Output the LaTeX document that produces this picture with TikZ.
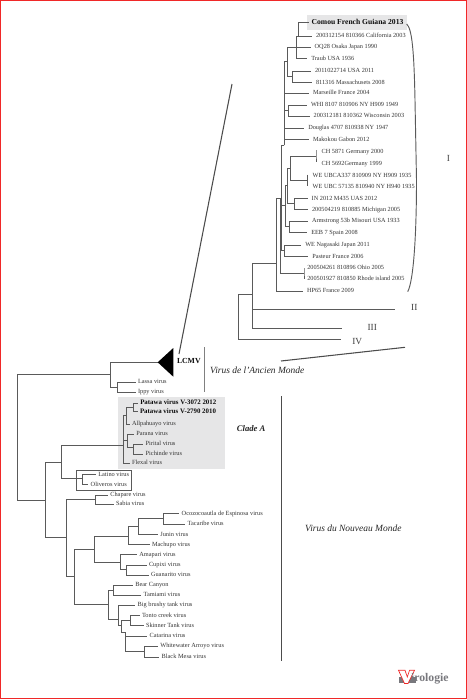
\documentclass[tikz,border=0pt]{standalone}
\usepackage{fontspec}
\setmainfont{Liberation Serif}
\definecolor{treegray}{RGB}{90,90,90}
\definecolor{boxgray}{RGB}{230,230,231}
\definecolor{framered}{RGB}{240,40,40}
\definecolor{logogray}{RGB}{120,120,125}
\tikzset{
  every picture/.style={line width=0.75pt},
  branch/.style={draw=treegray,line width=0.7pt},
  sepline/.style={draw=black!70,line width=0.8pt},
  strain/.style={anchor=west,inner sep=0.5pt,outer sep=2.6pt,xshift=-3.1pt,text height=3.4pt,text depth=1pt,text=black!80,font=\fontsize{4.7}{5}\selectfont},
  virus/.style={anchor=west,inner sep=0.5pt,outer sep=1.2pt,xshift=-1.7pt,text height=3.4pt,text depth=1pt,text=black!80,font=\fontsize{4.75}{6}\selectfont},
  boldvirus/.style={virus,text=black!95,font=\fontsize{5.15}{6}\selectfont\bfseries},
  clusterlab/.style={inner sep=0.5pt,text=black!75,font=\fontsize{7}{8}\selectfont},
  worldlab/.style={anchor=west,inner sep=0.5pt,text=black!85,font=\fontsize{7.1}{9}\selectfont\itshape},
}

\begin{document}
\begin{tikzpicture}[x=0.75pt,y=0.75pt,yscale=-1,xscale=1]
\useasboundingbox (0,0) rectangle (467,700);

%Shape: Frame and grey boxes
\draw [framered,line width=0.9pt] (0.6,0.6) rectangle (466.2,698.6);
\fill [boxgray] (307,15) rectangle (407,30);
\fill [boxgray] (118,397.3) rectangle (225,468.7);
\draw [branch] (76.7,470.3) rectangle (131.3,490.3);

% Text Node: upper tree
\node [boldvirus,font=\fontsize{5.7}{6}\selectfont\bfseries] (comou) at (311.7,22.7) {Comou French Guiana 2013};
\node [strain] (calif) at (316,36) {200312154 810366 California 2003};
\node [strain] (osaka) at (314.7,47.3) {OQ28 Osaka Japan 1990};
\node [strain] (traub) at (311.3,58.7) {Traub USA 1936};
\node [strain] (usa) at (315,71) {2011022714 USA 2011};
\node [strain] (massa) at (316,82.7) {811316 Massachusets 2008};
\node [strain] (marseille) at (313,93.3) {Marseille France 2004};
\node [strain] (whi) at (311,105.3) {WHI 8107 810906 NY H909 1949};
\node [strain] (wisc) at (313.7,116.3) {200312181 810362 Wisconsin 2003};
\node [strain] (douglas) at (308.3,128.3) {Douglas 4707 810938 NY 1947};
\node [strain] (makokou) at (313,139.7) {Makokou Gabon 2012};
\node [strain] (chone) at (321.7,152.3) {CH 5871 Germany 2000};
\node [strain] (chtwo) at (321.7,163.7) {CH 5692Germany 1999};
\node [strain] (ubca) at (312.7,176) {WE UBCA337 810909 NY H909 1935};
\node [strain] (ubc) at (312.7,187.3) {WE UBC 57135 810940 NY H940 1935};
\node [strain] (inuas) at (311.7,198.7) {IN 2012 M435 UAS 2012};
\node [strain] (michigan) at (312,209.7) {200504219 810885 Michigan 2005};
\node [strain] (armstrong) at (312,221) {Armstrong 53b Misouri USA 1933};
\node [strain] (eeb) at (311.3,232.7) {EEB 7 Spain 2008};
\node [strain] (nagasaki) at (305.3,245) {WE Nagasaki Japan 2011};
\node [strain] (pasteur) at (312.3,256.7) {Pasteur France 2006};
\node [strain] (ohio) at (307.3,268) {200504261 810896 Ohio 2005};
\node [strain] (rhode) at (307.3,279.3) {200501927 810850 Rhode island 2005};
\node [strain] (hpsf) at (307,291) {HP65 France 2009};
\node [clusterlab] (ci) at (448.3,158) {I};
\node [clusterlab] (cii) at (414.3,307.7) {II};
\node [clusterlab] (ciii) at (372.3,327) {III};
\node [clusterlab] (civ) at (357.3,341.5) {IV};

% Text Node: lower tree
\node [boldvirus,font=\fontsize{5.8}{7}\selectfont\bfseries] (lcmv) at (177,362) {LCMV};
\node [virus] (lassa) at (138,382) {Lassa virus};
\node [virus] (ippy) at (138,392.3) {Ippy virus};
\node [boldvirus] (patawaone) at (140.3,403) {Patawa virus V-3072 2012};
\node [boldvirus] (patawatwo) at (140,411.7) {Patawa virus V-2790 2010};
\node [virus] (allpa) at (132,424) {Allpahuayo virus};
\node [virus] (parana) at (136.3,434.3) {Parana virus};
\node [virus] (pirital) at (145.7,444.3) {Pirital virus};
\node [virus] (pichinde) at (145.7,454.3) {Pichinde virus};
\node [virus] (flexal) at (132,463.3) {Flexal virus};
\node [virus] (latino) at (98.3,474.7) {Latino virus};
\node [virus] (oliveros) at (90.7,484.7) {Oliveros virus};
\node [virus] (chapare) at (110.3,495.3) {Chapare virus};
\node [virus] (sabia) at (116,504) {Sabia virus};
\node [virus] (ocozo) at (181.7,513.7) {Ocozocoautla de Espinosa virus};
\node [virus] (tacaribe) at (187.7,524.3) {Tacaribe virus};
\node [virus] (junin) at (160.3,534.7) {Junin virus};
\node [virus] (machupo) at (152,544.7) {Machupo virus};
\node [virus] (amapari) at (139.3,554.7) {Amapari virus};
\node [virus] (cupixi) at (149,565) {Cupixi virus};
\node [virus] (guanarito) at (151,575) {Guanarito virus};
\node [virus] (bear) at (135.3,585) {Bear Canyon};
\node [virus] (tamiami) at (143.7,595.3) {Tamiami virus};
\node [virus] (brushy) at (137.7,605.3) {Big brushy tank virus};
\node [virus] (tonto) at (142,615.7) {Tonto creek virus};
\node [virus] (skinner) at (146,625.7) {Skinner Tank virus};
\node [virus] (catarina) at (149.7,636) {Catarina virus};
\node [virus] (whitewater) at (160.3,646) {Whitewater Arroyo virus};
\node [virus] (blackmesa) at (161.7,657) {Black Mesa virus};
\node [worldlab] (ancien) at (209,370) {Virus de l’Ancien Monde};
\node [worldlab] (nouveau) at (304,528) {Virus du Nouveau Monde};
\node [worldlab,font=\fontsize{6.5}{8}\selectfont\bfseries\itshape] (clade) at (235.7,428.7) {Clade A};

% Junctions of the upper tree
\coordinate (uroot) at (238.3,294);
\coordinate (uclade) at (252,294);
\coordinate (uone) at (276.7,263.3);
\coordinate (ub) at (280,198.3);
\coordinate (uc) at (281.7,198.3);
\coordinate (ud) at (304,273.3);
\coordinate (ue) at (284,145);
\coordinate (uf) at (287.3,61.7);
\coordinate (ug) at (284,250);
\coordinate (uh) at (285,205);
\coordinate (ui) at (288.7,110.7);
\coordinate (uj) at (296.7,47.3);
\coordinate (uk) at (292.3,76);
\coordinate (ul) at (298.3,36);
\coordinate (um) at (287.3,185);
\coordinate (un) at (289,226.7);
\coordinate (uo) at (290,168.3);
\coordinate (up) at (294,203.3);
\coordinate (uq) at (316,156);
\coordinate (ur) at (307.7,180);
\coordinate (iiend) at (395,309);
\coordinate (iiiend) at (342,328);
\coordinate (ivend) at (340.7,339.3);

%Tree: upper branches
\draw [branch] (uroot) |- (uclade);
\draw [branch] (uroot) |- (ivend);
\draw [branch] (uclade) |- (uone);
\draw [branch] (uclade) |- (iiend);
\draw [branch] (uclade) |- (iiiend);
\draw [branch] (uone) |- (ub);
\draw [branch] (uone) |- (hpsf);
\draw [branch] (ub) |- (uc);
\draw [branch] (ub) |- (ud);
\draw [branch] (uc) |- (ue);
\draw [branch] (uc) |- (ug);
\draw [branch] (uc) |- (uh);
\draw [branch] (ue) |- (uf);
\draw [branch] (ue) |- (marseille);
\draw [branch] (ue) |- (ui);
\draw [branch] (ue) |- (douglas);
\draw [branch] (ue) |- (makokou);
\draw [branch] (uf) |- (uj);
\draw [branch] (uf) |- (uk);
\draw [branch] (uj) |- (ul);
\draw [branch] (uj) |- (osaka);
\draw [branch] (uj) |- (traub);
\draw [branch] (ul) |- (comou);
\draw [branch] (ul) |- (calif);
\draw [branch] (uk) |- (usa);
\draw [branch] (uk) |- (massa);
\draw [branch] (ui) |- (whi);
\draw [branch] (ui) |- (wisc);
\draw [branch] (ug) |- (nagasaki);
\draw [branch] (ug) |- (pasteur);
\draw [branch] (uh) |- (um);
\draw [branch] (uh) |- (un);
\draw [branch] (um) |- (uo);
\draw [branch] (um) |- (up);
\draw [branch] (uo) |- (uq);
\draw [branch] (uo) |- (ur);
\draw [branch] (up) |- (inuas);
\draw [branch] (up) |- (michigan);
\draw [branch] (un) |- (armstrong);
\draw [branch] (un) |- (eeb);
\draw [branch] (316,150) -- (uq) -- (316,161.7);
\draw [branch] (307.7,174.7) -- (ur) -- (307.7,186);
\draw [branch] (304,268) -- (ud) -- (304,279.3);

% Junctions of the lower tree
\coordinate (lroot) at (17.3,374.3);
\coordinate (la) at (110.7,374.3);
\coordinate (lb) at (45,500.7);
\coordinate (lc) at (117.7,387.3);
\coordinate (tip) at (157.7,362.3);
\coordinate (ld) at (61.3,462.3);
\coordinate (le) at (66,537.3);
\coordinate (lf) at (123.3,445.7);
\coordinate (lg) at (82.3,478.3);
\coordinate (lh) at (126,415);
\coordinate (li) at (127.7,440);
\coordinate (lj) at (133.3,407.7);
\coordinate (lk) at (133.3,447.7);
\coordinate (lm) at (95,499);
\coordinate (ln) at (74.3,576.7);
\coordinate (lo) at (94.7,549.3);
\coordinate (lp) at (108.3,604.3);
\coordinate (lq) at (128.3,536);
\coordinate (lr) at (120,562);
\coordinate (ls) at (138.3,526.7);
\coordinate (lt) at (163,518.7);
\coordinate (lu) at (126,569.3);
\coordinate (lv) at (113.3,590);
\coordinate (lw) at (118.7,619);
\coordinate (lx) at (121,625);
\coordinate (ly) at (130,620.3);
\coordinate (lz) at (125,632.3);
\coordinate (lzz) at (144.3,651.7);

%Tree: lower branches
\draw [branch] (lroot) |- (la);
\draw [branch] (lroot) |- (lb);
\draw [branch] (la) |- (tip);
\draw [branch] (la) |- (lc);
\draw [branch] (lc) |- (lassa);
\draw [branch] (lc) |- (ippy);
\draw [branch] (lb) |- (ld);
\draw [branch] (lb) |- (le);
\draw [branch] (ld) |- (lf);
\draw [branch] (ld) |- (lg);
\draw [branch] (lf) |- (lh);
\draw [branch] (lf) |- (li);
\draw [branch] (lf) |- (flexal);
\draw [branch] (lh) |- (lj);
\draw [branch] (lh) |- (allpa);
\draw [branch] (lj) |- (patawaone);
\draw [branch] (lj) |- (patawatwo);
\draw [branch] (li) |- (parana);
\draw [branch] (li) |- (lk);
\draw [branch] (lk) |- (pirital);
\draw [branch] (lk) |- (pichinde);
\draw [branch] (lg) |- (latino);
\draw [branch] (lg) |- (oliveros);
\draw [branch] (le) |- (lm);
\draw [branch] (le) |- (ln);
\draw [branch] (lm) |- (chapare);
\draw [branch] (lm) |- (sabia);
\draw [branch] (ln) |- (lo);
\draw [branch] (ln) |- (lp);
\draw [branch] (lo) |- (lq);
\draw [branch] (lo) |- (lr);
\draw [branch] (lq) |- (ls);
\draw [branch] (lq) |- (machupo);
\draw [branch] (ls) |- (lt);
\draw [branch] (ls) |- (junin);
\draw [branch] (lt) |- (ocozo);
\draw [branch] (lt) |- (tacaribe);
\draw [branch] (lr) |- (amapari);
\draw [branch] (lr) |- (lu);
\draw [branch] (lu) |- (cupixi);
\draw [branch] (lu) |- (guanarito);
\draw [branch] (lp) |- (lv);
\draw [branch] (lp) |- (lw);
\draw [branch] (lv) |- (bear);
\draw [branch] (lv) |- (tamiami);
\draw [branch] (lw) |- (brushy);
\draw [branch] (lw) |- (lx);
\draw [branch] (lx) |- (ly);
\draw [branch] (lx) |- (lz);
\draw [branch] (ly) |- (tonto);
\draw [branch] (ly) |- (skinner);
\draw [branch] (lz) |- (catarina);
\draw [branch] (lz) |- (lzz);
\draw [branch] (lzz) |- (whitewater);
\draw [branch] (lzz) |- (blackmesa);

%Shape: LCMV collapsed clade
\fill [black] (tip) -- (173.3,348) -- (173.3,376.7) -- cycle;

%Straight Lines
\draw [sepline] (232,84) -- (179,354);
\draw [sepline] (281,361) -- (405,347.3);
\draw [sepline,draw=black!50,line width=1pt] (204.7,347) -- (204.7,391.7);
\draw [sepline] (281.3,396) -- (281.3,661);

%Curve Lines: bracket of group I
\draw [branch] (406.7,24) .. controls (412,29) and (414,50) .. (415,100) -- (416.5,180) .. controls (416.5,230) and (414,280) .. (407.7,291.7);

%Shape: logo
\fill [logogray] (398.7,676.7) rectangle (416,682.5);
\draw [framered,fill=white,line width=0.5pt] (398.5,670.3) -- (405,670.3) -- (407.3,677) -- (409.5,670.3) -- (414.5,670.3) -- (408,683.5) -- (404.5,683.5) -- cycle;
\node [inner sep=0pt,anchor=west,text=logogray,font=\fontsize{8.8}{9}\selectfont\bfseries] (logo) at (410.5,678.5) {irologie};

\end{tikzpicture}
\end{document}
